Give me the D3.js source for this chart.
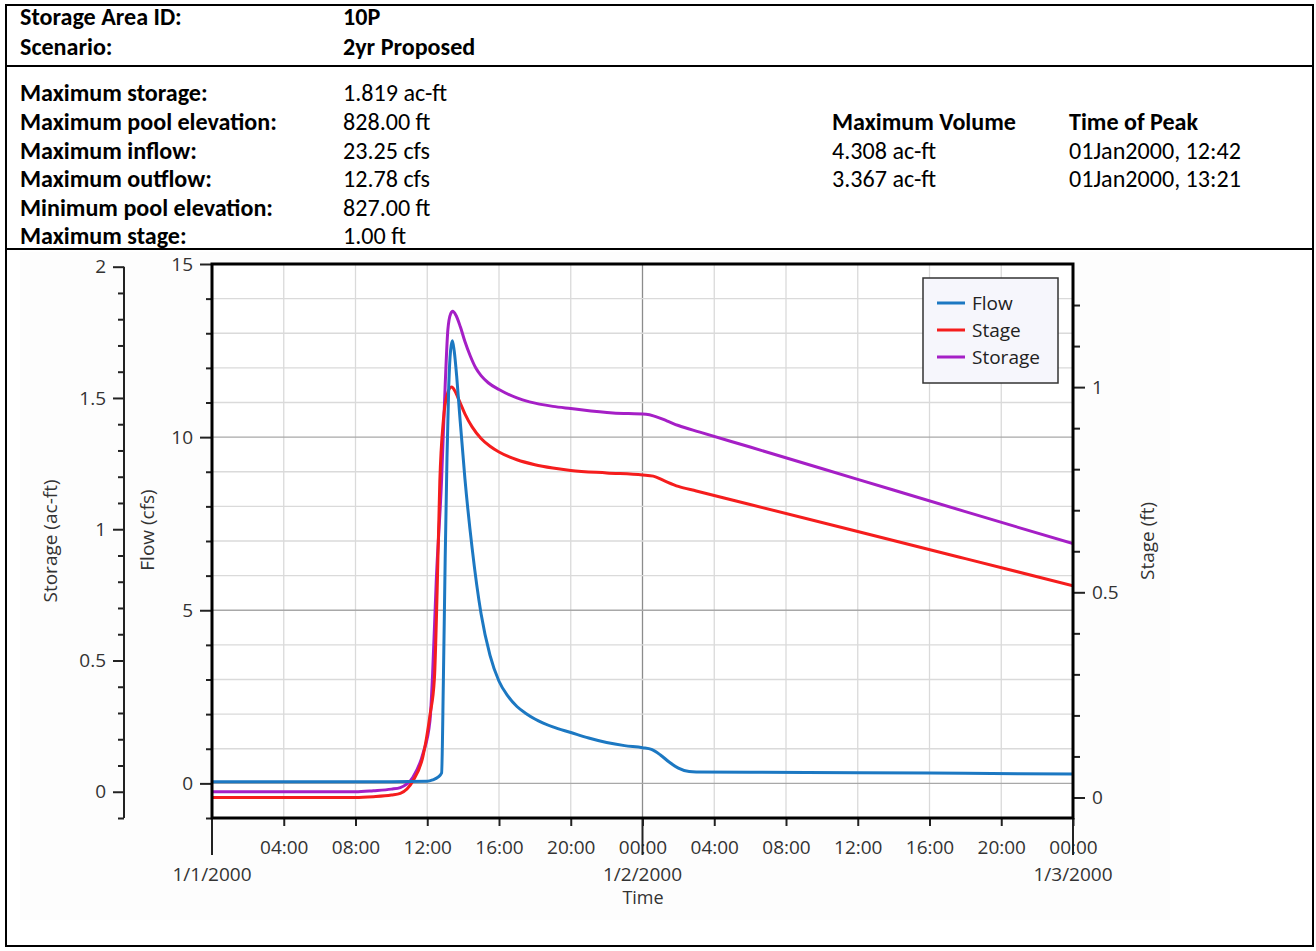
<!DOCTYPE html>
<html>
<head>
<meta charset="utf-8">
<script src="https://cdn.jsdelivr.net/npm/d3@7"></script>
<style>
  body { margin: 0; background: #fff; }
  svg { display: block; }
</style>
</head>
<body>
<div id="chart"></div>
<script>

// summary table text
const headerLabels = ["Storage Area ID:", "Scenario:"];
const headerValues = ["10P", "2yr Proposed"];
const summaryLabels = ["Maximum storage:", "Maximum pool elevation:", "Maximum inflow:", "Maximum outflow:", "Minimum pool elevation:", "Maximum stage:"];
const summaryValues = ["1.819 ac-ft", "828.00 ft", "23.25 cfs", "12.78 cfs", "827.00 ft", "1.00 ft"];
const peakHeaders = ["Maximum Volume", "Time of Peak"];
const peakVolumes = ["4.308 ac-ft", "3.367 ac-ft"];
const peakTimes = ["01Jan2000, 12:42", "01Jan2000, 13:21"];

// hydrograph series, hours after 1/1/2000 00:00
const flowHours = [0, 10, 12, 12.3, 12.6, 12.8, 12.9, 13.0, 13.1, 13.2, 13.3, 13.4, 13.5, 13.65, 13.8, 14.1, 14.5, 15.0, 15.5, 16, 16.5, 17, 17.5, 18, 19, 20, 21, 22, 23, 24, 24.5, 25, 25.5, 26, 26.6, 27, 30, 36, 42, 48];
const flowCfs = [0.05, 0.05, 0.06, 0.1, 0.18, 0.3, 3.0, 6.5, 9.4, 11.5, 12.5, 12.78, 12.5, 11.7, 10.7, 8.8, 6.8, 4.9, 3.7, 2.95, 2.52, 2.22, 2.02, 1.86, 1.63, 1.47, 1.31, 1.18, 1.09, 1.03, 0.98, 0.82, 0.61, 0.44, 0.34, 0.33, 0.32, 0.31, 0.29, 0.27];

const stageHours = [0, 8, 9, 10, 10.5, 11.2, 11.76, 12.15, 12.4, 12.55, 12.7, 12.9, 13.1, 13.36, 13.55, 13.8, 14.1, 14.5, 15.0, 15.5, 16, 17, 18, 19, 20, 22, 24, 24.6, 25.2, 26, 27, 30, 36, 42, 48];
const stageFt = [0, 0, 0.002, 0.006, 0.01, 0.04, 0.1, 0.2, 0.29, 0.5, 0.77, 0.92, 0.98, 1.0, 0.99, 0.965, 0.935, 0.903, 0.875, 0.856, 0.842, 0.823, 0.811, 0.803, 0.797, 0.791, 0.786, 0.783, 0.772, 0.758, 0.747, 0.714, 0.648, 0.582, 0.516];

const storageHours = [0, 8, 9, 10, 10.5, 11.2, 11.76, 12.15, 12.3, 12.5, 12.8, 13.0, 13.15, 13.3, 13.42, 13.6, 13.85, 14.1, 14.4, 14.7, 15.0, 15.4, 16.0, 17, 17.7, 19, 20, 22.35, 24.2, 24.7, 25.35, 26, 27.2, 30, 36, 42, 48];
const storageAcft = [0, 0, 0.004, 0.01, 0.016, 0.055, 0.145, 0.27, 0.45, 0.8, 1.19, 1.55, 1.76, 1.82, 1.83, 1.815, 1.77, 1.715, 1.66, 1.615, 1.585, 1.558, 1.532, 1.5, 1.485, 1.468, 1.46, 1.443, 1.438, 1.43, 1.413, 1.395, 1.37, 1.313, 1.19, 1.067, 0.945];

// axis ticks and legend
const flowTicks = [0, 5, 10, 15];
const storageTicks = [0, 0.5, 1, 1.5, 2];
const stageTicks = [0, 0.5, 1];
const dayLabels = ["1/1/2000", "1/2/2000", "1/3/2000"];
const seriesNames = ["Flow", "Stage", "Storage"];
const seriesColors = ["#1c78c2", "#f51d1d", "#a51fc6"];

const width = 1316, height = 951;
const plot = {left: 212, right: 1073, top: 264, bottom: 818};
const chartFont = "'Open Sans', 'Noto Sans', sans-serif";
const tableFont = "Carlito, Lato, sans-serif";

const svg = d3.select("#chart")
    .append("svg")
    .attr("width", width)
    .attr("height", height);

// ---------- table ----------
// fit table font so the longest label matches the original width
let probe = svg.append("text")
    .attr("font-family", tableFont)
    .attr("font-weight", "bold")
    .attr("font-size", 20)
    .text("Maximum pool elevation:");
let tableSize = 20 * 257 / probe.node().getComputedTextLength();
probe.remove();

let table = svg.append("g")
    .attr("font-family", tableFont)
    .attr("font-size", tableSize)
    .attr("fill", "#000");

let headerY = [17, 47];
let rowY = d3.range(6).map(i => 93 + i * 28.6);

headerLabels.forEach((d, i) => {
    table.append("text").attr("x", 20).attr("y", headerY[i]).attr("dy", "0.35em")
        .attr("font-weight", "bold").text(d);
    table.append("text").attr("x", 343).attr("y", headerY[i]).attr("dy", "0.35em")
        .attr("font-weight", "bold").text(headerValues[i]);
});

summaryLabels.forEach((d, i) => {
    table.append("text").attr("x", 20).attr("y", rowY[i]).attr("dy", "0.35em")
        .attr("font-weight", "bold").text(d);
    table.append("text").attr("x", 343).attr("y", rowY[i]).attr("dy", "0.35em")
        .text(summaryValues[i]);
});

// peak columns
peakHeaders.forEach((d, i) => {
    table.append("text").attr("x", i ? 1069 : 832).attr("y", rowY[1]).attr("dy", "0.35em")
        .attr("font-weight", "bold").text(d);
});
peakVolumes.forEach((d, i) => {
    table.append("text").attr("x", 832).attr("y", rowY[2 + i]).attr("dy", "0.35em").text(d);
    table.append("text").attr("x", 1069).attr("y", rowY[2 + i]).attr("dy", "0.35em").text(peakTimes[i]);
});

// borders
svg.append("rect")
    .attr("x", 6).attr("y", 5)
    .attr("width", 1307).attr("height", 941)
    .attr("fill", "none")
    .attr("stroke", "#000")
    .attr("stroke-width", 2);

[66, 249].forEach(y => {
    svg.append("line")
        .attr("x1", 6).attr("x2", 1313)
        .attr("y1", y).attr("y2", y)
        .attr("stroke", "#000")
        .attr("stroke-width", 2);
});

// chart image background (very faint)
svg.append("rect")
    .attr("x", 20).attr("y", 252)
    .attr("width", 1150).attr("height", 668)
    .attr("fill", "#fdfdfd");

svg.append("rect")
    .attr("x", plot.left).attr("y", plot.top)
    .attr("width", plot.right - plot.left).attr("height", plot.bottom - plot.top)
    .attr("fill", "#fff");

// ---------- scales ----------
const t0 = Date.UTC(2000, 0, 1);
const toDate = h => new Date(t0 + h * 3600 * 1000);

let x = d3.scaleUtc()
    .domain([toDate(0), toDate(48)])
    .range([plot.left, plot.right]);

let yFlow = d3.scaleLinear().domain([-1, 15]).range([plot.bottom, plot.top]);
let yStage = d3.scaleLinear().domain([-0.05, 1.3]).range([plot.bottom, plot.top]);
let yStorage = d3.scaleLinear().domain([-0.1, 2]).range([plot.bottom, 266.7]);

// ---------- gridlines ----------
let hourTicks = d3.utcHour.every(4).range(toDate(4), toDate(48));

svg.append("g")
    .selectAll("line")
    .data(hourTicks)
    .join("line")
    .attr("x1", d => x(d)).attr("x2", d => x(d))
    .attr("y1", plot.top).attr("y2", plot.bottom)
    .attr("stroke", d => d.getUTCHours() === 0 ? "#8c8c8c" : "#dadada")
    .attr("stroke-width", 1.3);

svg.append("g")
    .selectAll("line")
    .data(d3.range(0, 15))
    .join("line")
    .attr("x1", plot.left).attr("x2", plot.right)
    .attr("y1", d => yFlow(d)).attr("y2", d => yFlow(d))
    .attr("stroke", d => d % 5 === 0 ? "#a8a8a8" : "#dadada")
    .attr("stroke-width", 1.3);

// ---------- series ----------
svg.append("clipPath").attr("id", "plot-clip")
    .append("rect")
    .attr("x", plot.left).attr("y", plot.top)
    .attr("width", plot.right - plot.left).attr("height", plot.bottom - plot.top);

let series = [
    {hours: flowHours, values: flowCfs, y: yFlow},
    {hours: stageHours, values: stageFt, y: yStage},
    {hours: storageHours, values: storageAcft, y: yStorage}
];

let lines = svg.append("g").attr("clip-path", "url(#plot-clip)");

// draw storage first, flow on top
[2, 1, 0].forEach(i => {
    let s = series[i];
    let line = d3.line()
        .x((d, j) => x(toDate(s.hours[j])))
        .y(d => s.y(d))
        .curve(d3.curveMonotoneX);
    lines.append("path")
        .datum(s.values)
        .attr("d", line)
        .attr("fill", "none")
        .attr("stroke", seriesColors[i])
        .attr("stroke-width", 3)
        .attr("stroke-linejoin", "round");
});

// ---------- axes ----------
function styleAxis(g) {
    g.select(".domain").remove();
    g.selectAll(".tick line").attr("stroke", "#222").attr("stroke-width", 2);
    g.selectAll(".tick text")
        .attr("fill", "#333")
        .attr("font-family", chartFont)
        .attr("font-size", 19);
}

// flow axis (left frame)
svg.append("g")
    .attr("transform", `translate(${plot.left},0)`)
    .call(d3.axisLeft(yFlow).tickValues(flowTicks).tickSize(12).tickSizeOuter(0).tickPadding(7))
    .call(styleAxis);
svg.append("g")
    .attr("transform", `translate(${plot.left},0)`)
    .call(d3.axisLeft(yFlow).tickValues(d3.range(-1, 15).filter(v => v % 5 !== 0)).tickSize(6).tickFormat(""))
    .call(styleAxis);

// storage axis (outer left)
svg.append("line")
    .attr("x1", 124).attr("x2", 124)
    .attr("y1", yStorage(2)).attr("y2", yStorage(-0.1))
    .attr("stroke", "#222").attr("stroke-width", 2);
svg.append("g")
    .attr("transform", "translate(124,0)")
    .call(d3.axisLeft(yStorage).tickValues(storageTicks).tickSize(11).tickSizeOuter(0).tickPadding(7).tickFormat(d3.format("")))
    .call(styleAxis);
svg.append("g")
    .attr("transform", "translate(124,0)")
    .call(d3.axisLeft(yStorage).tickValues(d3.range(-1, 20).filter(v => v % 5 !== 0).map(v => v / 10)).tickSize(6).tickFormat(""))
    .call(styleAxis);

// stage axis (right frame)
svg.append("g")
    .attr("transform", `translate(${plot.right},0)`)
    .call(d3.axisRight(yStage).tickValues(stageTicks).tickSize(12).tickSizeOuter(0).tickPadding(7).tickFormat(d3.format("")))
    .call(styleAxis);
svg.append("g")
    .attr("transform", `translate(${plot.right},0)`)
    .call(d3.axisRight(yStage).tickValues(d3.range(1, 13).filter(v => v % 5 !== 0).map(v => v / 10)).tickSize(7).tickFormat(""))
    .call(styleAxis);

// time axis
let xAxis = svg.append("g")
    .attr("transform", `translate(0,${plot.bottom})`)
    .call(d3.axisBottom(x).tickValues(hourTicks.concat([toDate(48)])).tickSize(8).tickFormat(d3.utcFormat("%H:%M")))
    .call(styleAxis);
xAxis.selectAll(".tick text").attr("y", 29).attr("dy", "0.35em");

// day labels and long day ticks
let days = [toDate(0), toDate(24), toDate(48)];
svg.append("g")
    .selectAll("text")
    .data(days)
    .join("text")
    .attr("x", d => x(d))
    .attr("y", 874)
    .attr("dy", "0.35em")
    .attr("text-anchor", "middle")
    .attr("fill", "#333")
    .attr("font-family", chartFont)
    .attr("font-size", 19)
    .text((d, i) => dayLabels[i]);

svg.append("g")
    .selectAll("line")
    .data(days)
    .join("line")
    .attr("x1", d => x(d)).attr("x2", d => x(d))
    .attr("y1", plot.bottom).attr("y2", 855)
    .attr("stroke", "#222")
    .attr("stroke-width", 2);

// axis titles
function axisTitle(text, tx, ty, rotate, size) {
    svg.append("text")
        .attr("transform", `translate(${tx},${ty})` + (rotate ? " rotate(-90)" : ""))
        .attr("text-anchor", "middle")
        .attr("dy", "0.35em")
        .attr("fill", "#333")
        .attr("font-family", chartFont)
        .attr("font-size", size)
        .text(text);
}
axisTitle("Storage (ac-ft)", 50, 541, true, 19);
axisTitle("Flow (cfs)", 147, 530, true, 19);
axisTitle("Stage (ft)", 1147, 541, true, 19);
axisTitle("Time", 643, 898, false, 18);

// plot frame
svg.append("rect")
    .attr("x", plot.left).attr("y", plot.top)
    .attr("width", plot.right - plot.left).attr("height", plot.bottom - plot.top)
    .attr("fill", "none")
    .attr("stroke", "#000")
    .attr("stroke-width", 3);

// ---------- legend ----------
let legend = svg.append("g");
legend.append("rect")
    .attr("x", 923).attr("y", 278)
    .attr("width", 135).attr("height", 105)
    .attr("fill", "#f6f6fc")
    .attr("stroke", "#333")
    .attr("stroke-width", 1.5);

seriesNames.forEach((d, i) => {
    let ly = 303 + i * 27;
    legend.append("line")
        .attr("x1", 937).attr("x2", 965)
        .attr("y1", ly).attr("y2", ly)
        .attr("stroke", seriesColors[i])
        .attr("stroke-width", 3);
    legend.append("text")
        .attr("x", 972).attr("y", ly)
        .attr("dy", "0.35em")
        .attr("fill", "#222")
        .attr("font-family", chartFont)
        .attr("font-size", 19)
        .text(d);
});

</script>
</body>
</html>
